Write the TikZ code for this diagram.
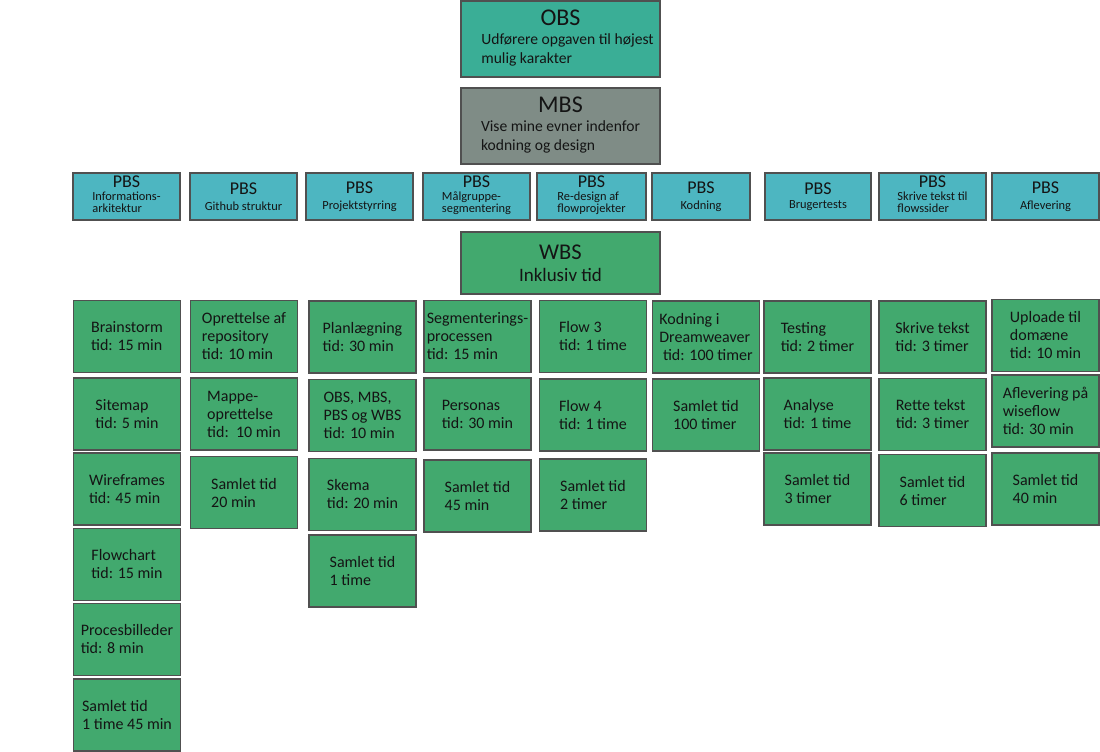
\documentclass[tikz,border=0pt]{standalone}
\usepackage{fontspec}
\setmainfont{Carlito}
\definecolor{obsfill}{RGB}{58,174,150}
\definecolor{mbsfill}{RGB}{127,140,134}
\definecolor{pbsfill}{RGB}{77,182,193}
\definecolor{wbsfill}{RGB}{66,169,110}
\definecolor{edge}{RGB}{80,80,80}
\newcommand{\leftlines}[1]{\begin{tabular}[t]{@{}l@{}}#1\end{tabular}}

\begin{document}
\begin{tikzpicture}[
  x=1pt,
  y=-1pt,
  every node/.style={inner sep=0, text=black!92},
  topbox/.style={draw=edge, line width=1.1, minimum width=199, minimum height=76, align=center,
    font=\fontsize{15.6}{18.5}\selectfont},
  pbsbox/.style={draw=edge, line width=1.1, fill=pbsfill, minimum width=107, minimum height=47, align=center,
    font=\fontsize{12.4}{12.5}\selectfont},
  task/.style={draw=edge, line width=1.1, fill=wbsfill, minimum width=107, minimum height=72, align=left,
    font=\fontsize{16}{18}\selectfont}
]
\path[use as bounding box] (0,0) rectangle (1100,752);
\fill[white] (0,0) rectangle (1100,752);

% Top levels
\node[topbox, fill=obsfill] (obs) at (560.5,39)
  {{\fontsize{24}{22}\selectfont OBS}\\[1pt]\hspace*{14pt}\leftlines{Udførere opgaven til højest\\mulig karakter}};
\node[topbox, fill=mbsfill] (mbs) at (560.5,126)
  {{\fontsize{24}{22}\selectfont MBS}\\[1pt]\leftlines{Vise mine evner indenfor\\kodning og design}};

% PBS row
\node[pbsbox] (pbsinfo) at (126.5,196.5)
  {{\fontsize{18}{14}\selectfont PBS}\\\leftlines{Informations-\\arkitektur}};
\node[pbsbox] (pbsgit) at (243.5,196.5)
  {{\fontsize{18}{14}\selectfont PBS}\\[3pt]Github struktur};
\node[pbsbox] (pbsstyr) at (359.5,196.5)
  {{\fontsize{18}{14}\selectfont PBS}\\[3pt]Projektstyrring};
\node[pbsbox] (pbsmaal) at (476.5,196.5)
  {{\fontsize{18}{14}\selectfont PBS}\\\leftlines{Målgruppe-\\segmentering}};
\node[pbsbox, minimum width=109] (pbsflow) at (591.5,196.5)
  {{\fontsize{18}{14}\selectfont PBS}\\\leftlines{Re-design af\\flowprojekter}};
\node[pbsbox, minimum width=98] (pbskod) at (701,196.5)
  {{\fontsize{18}{14}\selectfont PBS}\\[3pt]Kodning};
\node[pbsbox, minimum width=106] (pbstest) at (818,196.5)
  {{\fontsize{18}{14}\selectfont PBS}\\[1pt]Brugertests};
\node[pbsbox] (pbstekst) at (932.5,196.5)
  {{\fontsize{18}{14}\selectfont PBS}\\\leftlines{Skrive tekst til\\flowssider}};
\node[pbsbox] (pbsaflev) at (1045.5,196.5)
  {{\fontsize{18}{14}\selectfont PBS}\\[3pt]Aflevering};

% WBS
\node[topbox, fill=wbsfill, minimum height=62, font=\fontsize{19}{22}\selectfont] (wbs) at (560.5,263)
  {{\fontsize{22.5}{22}\selectfont WBS}\\Inklusiv tid};

% Informationsarkitektur
\node[task] (brain) at (127,336.5) {Brainstorm\\tid: 15 min};
\node[task] (sitemap) at (127,414) {Sitemap\\tid: 5 min};
\node[task] (wire) at (127,489) {Wireframes\\tid: 45 min};
\node[task] (flowchart) at (127,564.5) {Flowchart\\tid: 15 min};
\node[task] (proces) at (127,639.5) {Procesbilleder\\tid: 8 min};
\node[task] (suminfo) at (127,715) {Samlet tid\\1 time 45 min};

% Github struktur
\node[task] (repo) at (244,336.5) {Oprettelse af\\repository\\tid: 10 min};
\node[task] (mappe) at (244,414) {Mappe-\\oprettelse\\tid:\ \ 10 min};
\node[task] (sumgit) at (244,492.5) {Samlet tid\\20 min};

% Projektstyrring
\node[task] (plan) at (362.5,337) {Planlægning\\tid: 30 min};
\node[task] (obsmbs) at (362.5,415.5) {OBS, MBS,\\PBS og WBS\\tid: 10 min};
\node[task] (skema) at (362.5,494.5) {Skema\\tid: 20 min};
\node[task] (sumstyr) at (362.5,571) {Samlet tid\\1 time};

% Målgruppesegmentering
\node[task] (segment) at (477.5,336.5) {Segmenterings-\\processen\\tid: 15 min};
\node[task] (personas) at (477.5,414) {Personas\\tid: 30 min};
\node[task] (summaal) at (477.5,496) {Samlet tid\\45 min};

% Re-design af flowprojekter
\node[task] (flow3) at (593,336.5) {Flow 3\\tid: 1 time};
\node[task] (flow4) at (593,415) {Flow 4\\tid: 1 time};
\node[task] (sumflow) at (593,495) {Samlet tid\\2 timer};

% Kodning
\node[task] (dream) at (706,337) {Kodning i\\Dreamweaver\\\ tid: 100 timer};
\node[task] (sumkod) at (706,415) {Samlet tid\\100 timer};

% Brugertests
\node[task] (testing) at (817.5,337) {Testing\\tid: 2 timer};
\node[task] (analyse) at (817.5,414) {Analyse\\tid: 1 time};
\node[task] (sumtest) at (817.5,489) {Samlet tid\\3 timer};

% Skrive tekst til flowssider
\node[task] (skrive) at (932.5,337) {Skrive tekst\\tid: 3 timer};
\node[task] (rette) at (932.5,414.5) {Rette tekst\\tid: 3 timer};
\node[task] (sumtekst) at (932.5,490.5) {Samlet tid\\6 timer};

% Aflevering
\node[task] (upload) at (1045.5,335.5) {Uploade til\\domæne\\tid: 10 min};
\node[task] (wiseflow) at (1045.5,411) {Aflevering på\\wiseflow\\tid: 30 min};
\node[task] (sumaflev) at (1045.5,489) {Samlet tid\\40 min};

\end{tikzpicture}
\end{document}
